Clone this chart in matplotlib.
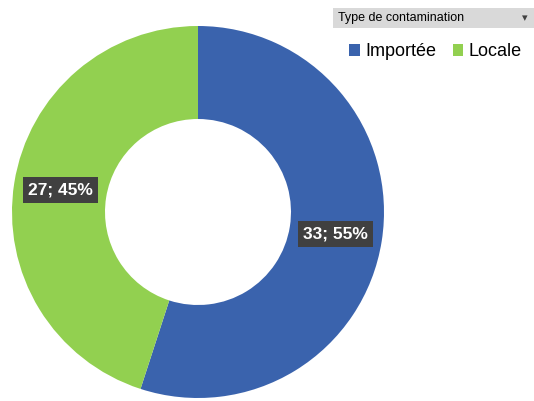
import matplotlib
matplotlib.use('Agg')
import matplotlib.pyplot as plt
from matplotlib.patches import Rectangle

categories = ['Importée', 'Locale']
values = [33, 27]
colors = ['#3A63AD', '#92D050']
legend_title = 'Type de contamination'

plt.rcParams['font.family'] = ['Liberation Sans Narrow', 'Liberation Sans', 'DejaVu Sans']

fig = plt.figure(figsize=(5.34, 4.01), dpi=100)
W, H = 534, 401
ax = fig.add_axes([12 / W, (H - 398) / H, 372 / W, 372 / H])

total = sum(values)


def fmt(pct):
    n = int(round(pct * total / 100.0))
    return '%d; %d%%' % (n, round(pct))


wedges, texts, autotexts = ax.pie(values, colors=colors, startangle=90, counterclock=False,
                                  radius=1, wedgeprops=dict(width=0.5, linewidth=0),
                                  autopct=fmt, pctdistance=0.75)
for t in autotexts:
    t.set_color('white')
    t.set_fontsize(12.5)
    t.set_fontweight('bold')
    t.set_bbox(dict(boxstyle='square,pad=0.3', facecolor='#404040', edgecolor='none'))
ax.set_xlim(-1, 1)
ax.set_ylim(-1, 1)
ax.set_aspect('equal')
ax.axis('off')

# legend header bar
fig.patches.append(Rectangle((333 / W, (H - 28) / H), 201 / W, 20 / H, transform=fig.transFigure,
                             facecolor='#D9D9D9', edgecolor='none'))
fig.text(338 / W, (H - 18) / H, legend_title, fontsize=9, va='center', ha='left',
         family=['Liberation Sans', 'DejaVu Sans'])
fig.text(528 / W, (H - 18) / H, '▾', fontsize=8, va='center', ha='right', color='#404040')

leg = fig.legend(wedges, categories, loc='center left', bbox_to_anchor=(349 / W, (H - 52) / H),
                 ncol=2, frameon=False, fontsize=13, handlelength=0.6, handleheight=0.6,
                 handletextpad=0.3, columnspacing=0.9, borderaxespad=0, borderpad=0)

fig.savefig('out.png', dpi=100)
